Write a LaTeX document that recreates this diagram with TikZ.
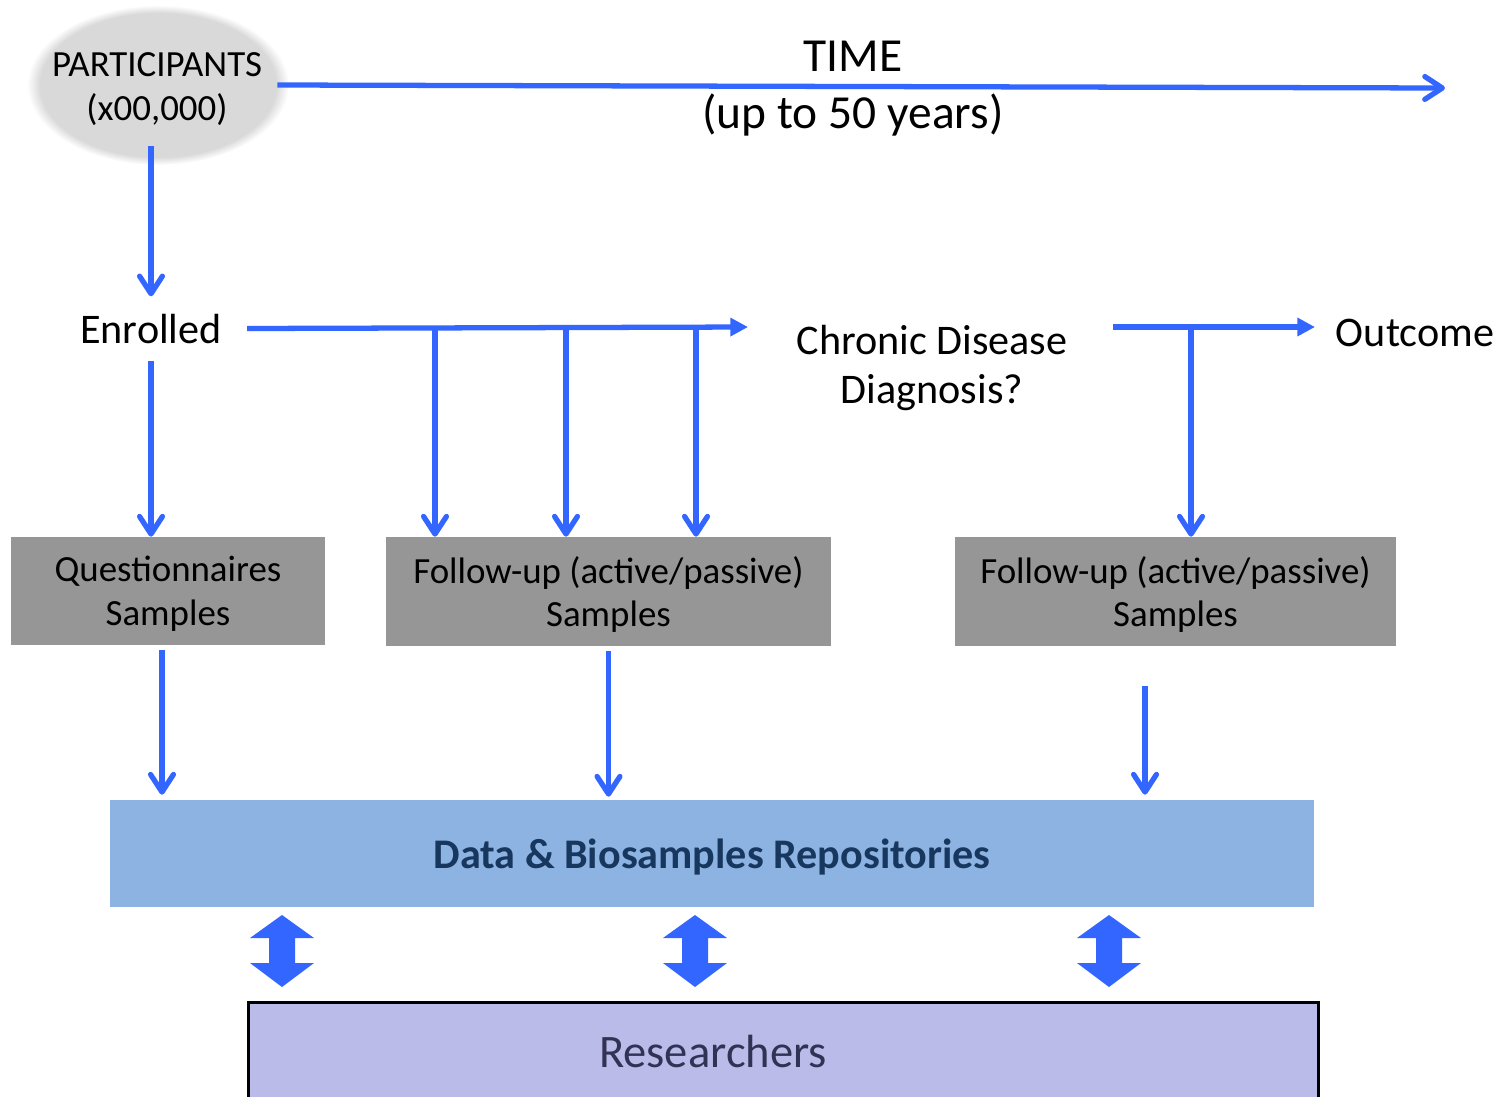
\documentclass[tikz,border=0pt]{standalone}
\usepackage{fontspec}
\setmainfont{Carlito}
\usetikzlibrary{arrows.meta}

\definecolor{arrowblue}{RGB}{51,102,255}
\definecolor{boxgray}{RGB}{150,150,150}
\definecolor{repoblue}{RGB}{141,179,226}
\definecolor{repotext}{RGB}{23,55,94}
\definecolor{resfill}{RGB}{187,187,234}
\definecolor{restext}{RGB}{50,50,85}

\pgfdeclareradialshading{blob}{\pgfpoint{0bp}{0bp}}{color(0bp)=(gray!30); color(22.5bp)=(gray!30); color(25bp)=(white); color(50bp)=(white)}

\begin{document}
\begin{tikzpicture}[x=0.02cm,y=-0.02cm]
		\tikzset{txt/.style = {align=center, inner sep=0pt},
			box/.style = {shape=rectangle, fill=boxgray, align=center, text depth=0pt, font=\fontsize{21}{25}\selectfont},
			flow/.style = {draw=arrowblue, line width=3pt},
			barb/.style = {flow, -{Straight Barb[length=10pt,width=13pt,round]}},
			tri/.style = {flow, -{Triangle[length=10pt,width=10pt]}}}

		\useasboundingbox (0,0) rectangle (1504,1096);

		\shade[shading=blob] (158,85) ellipse [x radius=2.62cm, y radius=1.6cm];
		\node[txt, inner xsep=0.3cm, inner ysep=0.4cm, font=\fontsize{21}{25.5}\selectfont] (P) at (157,89) {PARTICIPANTS\\(x00,000)};
		\node[txt, font=\fontsize{27}{32.3}\selectfont] (T) at (853,88.5) {TIME\\(up to 50 years)};
		\node[txt, inner xsep=0.5cm, inner ysep=0.34cm, font=\fontsize{24}{28.4}\selectfont] (E) at (151,328.5) {Enrolled};
		\node[txt, font=\fontsize{24}{28.4}\selectfont] (C) at (932,368) {Chronic Disease\\Diagnosis?};
		\node[txt, font=\fontsize{24}{28.4}\selectfont] (O) at (1415,333) {Outcome};

		\node[box, minimum width=6.28cm, minimum height=2.16cm] (Q) at (168,591) {Questionnaires\\Samples};
		\node[box, minimum width=8.9cm, minimum height=2.18cm] (F_1) at (608.5,591.5) {Follow-up (active/passive)\\Samples};
		\node[box, minimum width=8.82cm, minimum height=2.18cm] (F_2) at (1175.5,591.5) {Follow-up (active/passive)\\Samples};

		\node[shape=rectangle, fill=repoblue, minimum width=24.08cm, minimum height=2.14cm, text depth=0pt, text=repotext, font=\fontsize{24}{28}\selectfont\bfseries] (R) at (712,853.5) {Data \& Biosamples Repositories};
		\node[shape=rectangle, draw=black, line width=1.7pt, fill=resfill, minimum width=21.42cm, minimum height=2.6cm] (S) at (783.5,1067) {};
		\node[txt, text=restext, font=\fontsize{26.5}{30}\selectfont] (S_txt) at (713,1051) {Researchers};

		\coordinate (T_end) at (1445,88);
		\coordinate (L_end) at (748,327);
		\coordinate (D_1) at (435,327);
		\coordinate (D_2) at (566,327);
		\coordinate (D_3) at (696,327);
		\coordinate (M_start) at (1113,327);
		\coordinate (M_end) at (1315,327);
		\coordinate (D_4) at (1191,327);
		\coordinate (Q_out) at ([xshift=-0.12cm]Q.south);
		\coordinate (F_out) at ([xshift=-0.61cm]F_2.south);

		%arrows
		\draw[barb] ([yshift=0.08cm]P.east) -- (T_end);
		\draw[barb] (E.north |- P.south) -- (E.north);
		\draw[barb] (E.south) -- (E.south |- Q.north);
		\draw[tri] (E.east) -- (L_end);
		\draw[barb] (D_1) -- (D_1 |- F_1.north);
		\draw[barb] (D_2) -- (D_2 |- F_1.north);
		\draw[barb] (D_3) -- (D_3 |- F_1.north);
		\draw[tri] (M_start) -- (M_end);
		\draw[barb] (D_4) -- (D_4 |- F_2.north);

		\draw[barb, shorten <=0.1cm, shorten >=0.1cm] (Q_out) -- (Q_out |- R.north);
		\draw[barb, shorten <=0.1cm, shorten >=0.06cm] (F_1.south) -- (F_1.south |- R.north);
		\draw[barb, shorten <=0.8cm, shorten >=0.1cm] (F_out) -- (F_out |- R.north);

		%double arrows
		\foreach \x in {282,695,1109}
			\fill[arrowblue] (\x,915) -- (\x+32,938) -- (\x+13,938) -- (\x+13,963) -- (\x+32,963) -- (\x,987) -- (\x-32,963) -- (\x-13,963) -- (\x-13,938) -- (\x-32,938) -- cycle;

	\end{tikzpicture}
\end{document}
